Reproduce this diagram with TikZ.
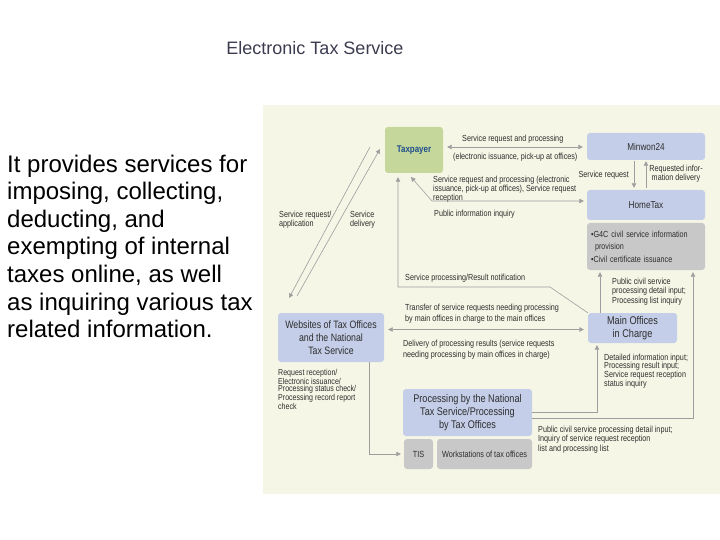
\documentclass[tikz,border=0pt]{standalone}
\usepackage{fontspec}
\setmainfont{Liberation Sans}
\newfontfamily\cond[FakeStretch=0.82]{Liberation Sans}
\usetikzlibrary{arrows.meta}
\definecolor{panel}{HTML}{F6F6E6}
\definecolor{boxgreen}{HTML}{C5D79B}
\definecolor{boxblue}{HTML}{C4CEE8}
\definecolor{boxgray}{HTML}{C8C8C8}
\definecolor{lineg}{HTML}{9E9E9E}
\definecolor{txt}{HTML}{2E2E2E}
\definecolor{taxblue}{HTML}{1F4E8C}
\definecolor{titlec}{HTML}{3C3C50}
\tikzset{
  box/.style={rounded corners=3pt, inner sep=0pt, align=center, text=txt, font=\cond\fontsize{11}{13}\selectfont},
  bluebox/.style={box, fill=boxblue},
  graybox/.style={box, fill=boxgray},
  lbl/.style={inner sep=0pt, anchor=north west, align=left, text=txt, font=\cond\fontsize{8.8}{9.5}\selectfont},
  conn/.style={draw=lineg, line width=0.6pt},
}
\begin{document}
\begin{tikzpicture}[x=1pt,y=-1pt, >={Triangle[length=4.5pt,width=4.5pt]}]
\useasboundingbox (0,0) rectangle (720,540);
\fill[panel] (263,105) rectangle (720,494);

% title and intro
\node[font=\fontsize{18}{20}\selectfont, text=titlec] (title) at (315,48) {Electronic Tax Service};
\node[anchor=north west, align=left, inner sep=0pt, font=\fontsize{24}{27.6}\selectfont, text=black] (intro) at (7,154.5)
  {It provides services for\\imposing, collecting,\\deducting, and\\exempting of internal\\taxes online, as well\\as inquiring various tax\\related information.};

% boxes
\node[box, fill=boxgreen, minimum width=58pt, minimum height=46pt, font=\cond\bfseries\fontsize{9.7}{11}\selectfont, text=taxblue] (tp) at (414,150) {Taxpayer};
\node[bluebox, minimum width=118pt, minimum height=27pt, font=\cond\fontsize{10}{12}\selectfont] (mw) at (646,146.5) {Minwon24};
\node[bluebox, minimum width=118pt, minimum height=30pt, font=\cond\fontsize{10}{12}\selectfont] (ht) at (646,205) {HomeTax};
\node[graybox, minimum width=118pt, minimum height=47pt, text width=110pt, align=left, font=\cond\fontsize{8.8}{12.5}\selectfont] (g4c) at (646,246.5)
  {•G4C civil service information\\\hspace*{4pt}provision\\•Civil certificate issuance};
\node[bluebox, minimum width=89pt, minimum height=30pt, font=\cond\fontsize{11.2}{13}\selectfont] (mo) at (632.5,328) {Main Offices\\in Charge};
\node[bluebox, minimum width=106pt, minimum height=49pt, font=\cond\fontsize{10.7}{13}\selectfont] (ws) at (331,337.5) {Websites of Tax Offices\\and the National\\Tax Service};
\node[bluebox, minimum width=129pt, minimum height=47pt, font=\cond\fontsize{11.1}{13}\selectfont] (pr) at (467.5,412.5) {Processing by the National\\Tax Service/Processing\\by Tax Offices};
\node[graybox, minimum width=29pt, minimum height=30pt, font=\cond\fontsize{8.9}{10}\selectfont] (tis) at (418.5,454) {TIS};
\node[graybox, minimum width=95pt, minimum height=30pt, font=\cond\fontsize{8.9}{10}\selectfont] (wk) at (484.5,454) {Workstations of tax offices};

% coordinates for free ends
\coordinate (dl1) at (370,147);
\coordinate (dl2) at (289,298);
\coordinate (dr1) at (297,296);
\coordinate (dr2) at (380,149);
\coordinate (t2) at (411,177);
\coordinate (h1) at (432,201);
\coordinate (k0) at (550,287);
\coordinate (k1) at (398,287);

% connectors
\draw[conn,<->, shorten <=4pt, shorten >=4pt] ([yshift=3pt]tp.east) -- ([yshift=3pt]tp.east -| mw.west);
\draw[conn,<->, shorten <=3pt] ([yshift=4pt]ht.west) -- (h1) -- (t2);
\draw[conn,->, shorten <=1pt, shorten >=2pt] ([xshift=-12pt]mw.south) -- ([xshift=-12pt]mw.south |- ht.north);
\draw[conn,->, shorten <=2pt, shorten >=1pt] (ht.north) -- (mw.south);
\draw[conn,->, shorten >=4pt] (mo.north west) -- (k0) -- (k1) -- (k1 |- tp.south);
\draw[conn,<->, shorten <=4pt, shorten >=4pt] ([yshift=8pt]ws.east) -- ([yshift=8pt]ws.east -| mo.west);
\draw[conn,->, shorten >=3pt] ([xshift=38pt]ws.south) |- (tis.west);
\draw[conn,->] (dl1) -- (dl2);
\draw[conn,->] (dr1) -- (dr2);
\draw[conn,->, shorten >=2pt] ([yshift=0.5pt]pr.east) -| ([xshift=-35.5pt]mo.south);
\draw[conn,->, shorten >=2pt] ([yshift=-5.5pt]pr.east) -| ([xshift=47pt]g4c.south);
\draw[conn,->, shorten >=2pt] ([xshift=-32.5pt]mo.north) -- ([xshift=-32.5pt]mo.north |- g4c.south);

% labels
\node[lbl, anchor=base west] (l1) at (462,142) {Service request and processing};
\node[lbl, anchor=base west] (l2) at (453,160) {(electronic issuance, pick-up at offices)};
\node[lbl, font=\cond\fontsize{8.8}{9}\selectfont] (l3) at (433,175.6) {Service request and processing (electronic\\issuance, pick-up at offices), Service request\\reception};
\node[lbl, anchor=base west] (l4) at (434,216) {Public information inquiry};
\node[lbl, anchor=base east] (l5) at (629,178) {Service request};
\node[lbl, anchor=north, align=center] (l6) at (676,164.6) {Requested infor-\\mation delivery};
\node[lbl] (l7) at (279,210.6) {Service request/\\application};
\node[lbl] (l8) at (350,210.6) {Service\\delivery};
\node[lbl, anchor=base west] (l9) at (405,280) {Service processing/Result notification};
\node[lbl] (l10) at (612,277.6) {Public civil service\\processing detail input;\\Processing list inquiry};
\node[lbl, font=\cond\fontsize{8.8}{11}\selectfont] (l11) at (405,303.6) {Transfer of service requests needing processing\\by main offices in charge to the main offices};
\node[lbl, font=\cond\fontsize{8.8}{11}\selectfont] (l12) at (403,339.6) {Delivery of processing results (service requests\\needing processing by main offices in charge)};
\node[lbl, font=\cond\fontsize{8.6}{7.7}\selectfont] (l13) at (278,368.7) {Request reception/\\Electronic issuance/\\Processing status check/\\Processing record report\\check};
\node[lbl, font=\cond\fontsize{8.8}{8.8}\selectfont] (l14) at (604,353.6) {Detailed information input;\\Processing result input;\\Service request reception\\status inquiry};
\node[lbl] (l15) at (538,425.6) {Public civil service processing detail input;\\Inquiry of service request reception\\list and processing list};
\end{tikzpicture}
\end{document}
